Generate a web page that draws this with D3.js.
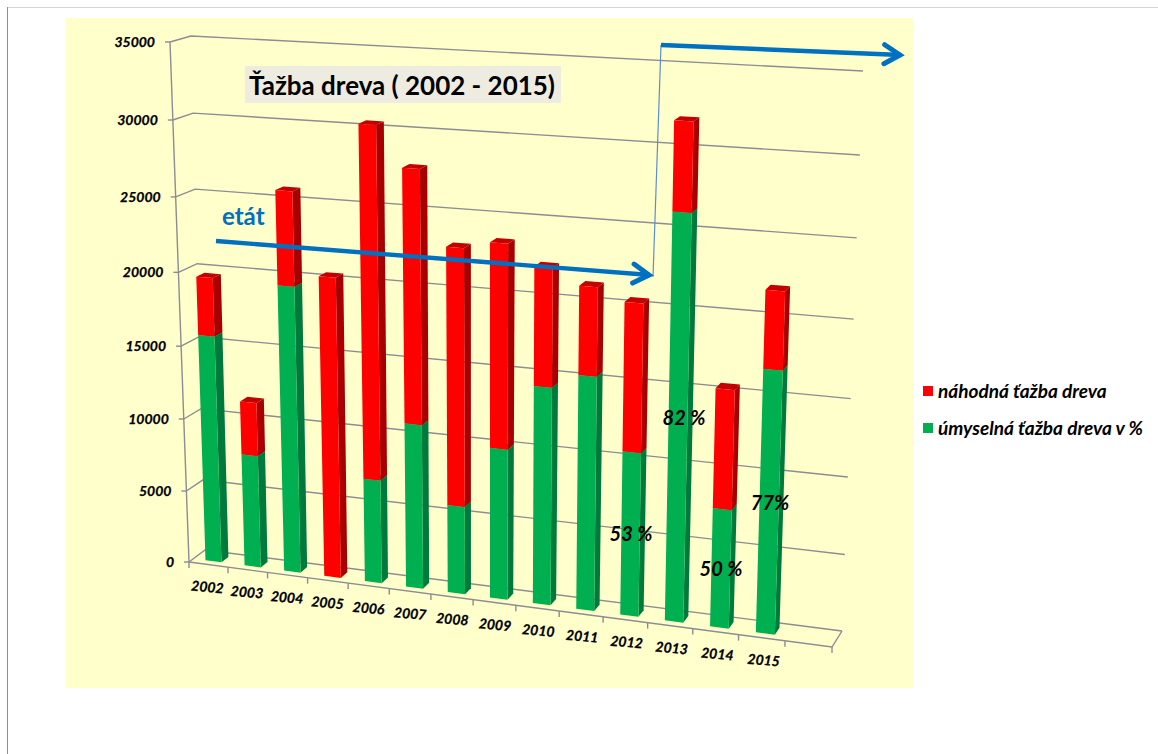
<!DOCTYPE html>
<html><head><meta charset="utf-8">
<script src="https://cdn.jsdelivr.net/npm/d3@7"></script>
<style>html,body{margin:0;padding:0;background:#fff}svg{display:block}text{font-family:Lato,"Open Sans",sans-serif}</style>
</head><body><svg id="c" width="1158" height="754"></svg>
<script>
const years=[2002,2003,2004,2005,2006,2007,2008,2009,2010,2011,2012,2013,2014,2015];
const umyselna=[15665,7755,19520,0,7040,11100,5915,10080,14460,15470,10790,26300,7755,16990];
const nahodna=[3955,3640,6250,20360,23350,16695,17065,13405,7725,5730,9635,5550,7715,4935];
const valueTicks=[0,5000,10000,15000,20000,25000,30000,35000];
const seriesNames=["náhodná ťažba dreva","úmyselná ťažba dreva v %"];
const percentNotes=[["82 %",684,418],["53 %",631,534],["50 %",721,569],["77%",770,503]];

const svg=d3.select("#c");
const bands=15, persp=-0.0953;
const uScale=d3.scaleLinear().domain([0,bands]).range([0,1]);
// height along the perspective wall, compressed slightly toward the viewer's far end
const vScale=d3.scaleLinear().domain(valueTicks).range([0,.1365,.275,.415,.557,.702,.85,1]);
// projected cube corners: [front/back][left/right][bottom/top]
const C={flb:[189,562],frb:[832,647],blb:[205,550],brb:[842,631],
         flt:[170,42], frt:[852,81], blt:[191,36], brt:[863,71]};
const mix=(a,b,t)=>[a[0]+(b[0]-a[0])*t,a[1]+(b[1]-a[1])*t];
function P(band,d,v){
  const u=uScale(band), t=(1+persp)*u/(1+persp*u), w=vScale(v);
  const f=mix(mix(C.flb,C.frb,t),mix(C.flt,C.frt,t),w);
  const b=mix(mix(C.blb,C.brb,t),mix(C.blt,C.brt,t),w);
  return mix(f,b,d);
}
const poly=d3.line();
const AXIS="#8c8c92";

svg.append("rect").attr("width",1158).attr("height",754).attr("fill","#fff");
svg.append("line").attr("x1",7).attr("x2",1158).attr("y1",7.5).attr("y2",7.5).attr("stroke","#d4d4d4");
svg.append("line").attr("x1",7.5).attr("x2",7.5).attr("y1",7).attr("y2",754).attr("stroke","#8f8f8f");
svg.append("rect").attr("x",66).attr("y",18).attr("width",847).attr("height",670).attr("fill","#FFFFCC");

// walls
const grid=svg.append("g").attr("fill","none").attr("stroke",AXIS).attr("stroke-width",1.4);
valueTicks.forEach(v=>{
  grid.append("path").attr("d",poly([P(0,0,v),P(0,1,v),P(bands,1,v)]));
  const a=P(0,0,v);
  grid.append("line").attr("x1",a[0]-5).attr("x2",a[0]).attr("y1",a[1]).attr("y2",a[1]);
});
grid.append("path").attr("d",poly([P(0,0,0),P(0,0,35000)]));
grid.append("path").attr("d",poly([P(0,0,0),P(bands,0,0),P(bands,1,0)]));
d3.range(0,bands+1).forEach(i=>{
  const a=P(i,0,0);
  grid.append("line").attr("x1",a[0]).attr("x2",a[0]).attr("y1",a[1]).attr("y2",a[1]+6);
});

// tick labels
const tickStyle=s=>s.attr("font-size",14).attr("font-weight",700).attr("font-style","italic")
  .attr("fill","#000").attr("stroke","#000").attr("stroke-width",.25);
svg.append("g").selectAll("text").data(valueTicks).join("text")
  .attr("x",d=>P(0,0,d)[0]-15).attr("y",d=>P(0,0,d)[1]).attr("dy","0.35em")
  .attr("text-anchor","end").call(tickStyle).text(d=>d);
svg.append("g").selectAll("text").data(years).join("text")
  .attr("transform",(d,i)=>{const p=P(i+.5,0,0);return `translate(${p[0]-1+i/13*3},${p[1]+22.5}) rotate(5)`;})
  .attr("text-anchor","middle").attr("dy","0.35em").call(tickStyle).text(d=>d);

// bars
const rows=years.map((y,i)=>({i,umyselna:umyselna[i],nahodna:nahodna[i]}));
const stacked=d3.stack().keys(["umyselna","nahodna"])(rows);
const look={umyselna:{front:"#00B050",side:"#007A3C",top:"#009A46"},nahodna:{front:"#FF0000",side:"#A80000",top:"#C40000"}};
const U0=.31,U1=.72,D0=.28,D1=.72;
const barG=svg.append("g");
years.forEach((y,i)=>{
  stacked.forEach(s=>{
    const [lo,hi]=s[i]; if(hi<=lo) return;
    const k=look[s.key], a=i+U0, b=i+U1;
    barG.append("path").attr("fill",k.top).attr("d",poly([P(a,D0,hi),P(b,D0,hi),P(b,D1,hi),P(a,D1,hi)])+"Z");
    barG.append("path").attr("fill",k.side).attr("d",poly([P(b,D0,lo),P(b,D1,lo),P(b,D1,hi),P(b,D0,hi)])+"Z");
    barG.append("path").attr("fill",k.front).attr("d",poly([P(a,D0,lo),P(b,D0,lo),P(b,D0,hi),P(a,D0,hi)])+"Z");
  });
});

// overlay annotations
const BLUE="#0070C0";
svg.append("line").attr("x1",653).attr("y1",277).attr("x2",661).attr("y2",45).attr("stroke","#5B8FCB").attr("stroke-width",1.2);
function arrow(x1,y1,x2,y2){
  const g=svg.append("g").attr("fill","none").attr("stroke",BLUE);
  g.append("line").attr("x1",x1).attr("y1",y1).attr("x2",x2-2).attr("y2",y2).attr("stroke-width",4.4);
  const ang=Math.atan2(y2-y1,x2-x1), L=21, sp=.47;
  g.append("path").attr("stroke-width",5).attr("stroke-linecap","round").attr("stroke-linejoin","miter")
   .attr("d",poly([[x2-L*Math.cos(ang-sp),y2-L*Math.sin(ang-sp)],[x2-3,y2],[x2-L*Math.cos(ang+sp),y2-L*Math.sin(ang+sp)]]));
}
arrow(216,241,652,275);
arrow(661,45,903,55);

svg.append("rect").attr("x",245).attr("y",66).attr("width",316).attr("height",37).attr("fill","#EEECE1");
svg.append("text").attr("x",249).attr("y",95).attr("font-size",27.5).attr("font-weight",700).attr("fill","#000")
  .attr("textLength",306).attr("lengthAdjust","spacingAndGlyphs").text("Ťažba dreva ( 2002 - 2015)");
svg.append("text").attr("x",222).attr("y",225).attr("font-size",24).attr("font-weight",700).attr("fill",BLUE).text("etát");

svg.append("g").selectAll("text").data(percentNotes).join("text")
  .attr("x",d=>d[1]).attr("y",d=>d[2]).attr("dy","0.35em").attr("text-anchor","middle")
  .attr("font-size",20).attr("font-weight",700).attr("font-style","italic").attr("fill","#000").text(d=>d[0]);

// legend
const legend=svg.append("g").selectAll("g").data(seriesNames).join("g")
  .attr("transform",(d,i)=>`translate(923,${386+i*37})`);
legend.append("rect").attr("width",10).attr("height",10).attr("fill",(d,i)=>i?look.umyselna.front:look.nahodna.front);
legend.append("text").attr("x",15).attr("y",5).attr("dy","0.35em").attr("font-size",19).attr("font-weight",700).attr("font-style","italic").attr("fill","#000").text(d=>d);
</script></body></html>
